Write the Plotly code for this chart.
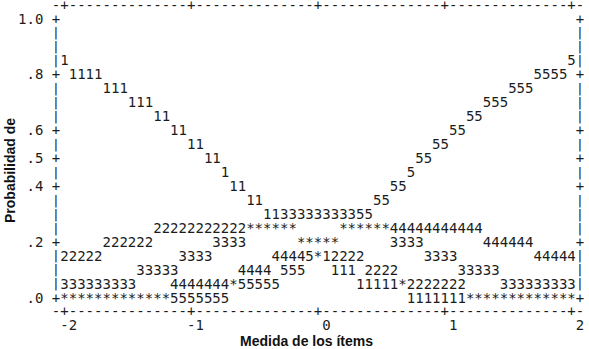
import numpy as np
import plotly.graph_objects as go

# ---------------- data -------------
# plot columns: measure from -2 to +2 logits, 15 columns per logit (61 columns)
measure = np.linspace(-2, 2, 61)
categories = ["1", "2", "3", "4", "5"]

# probability of each category at every column (as printed, rounded to .05)
p_cat1 = [.85,
          .80, .80, .80, .80, .75, .75, .75, .70, .70, .70, .65, .65, .60, .60,
          .55, .55, .50, .50, .45, .40, .40, .35, .35, .30, .30, .25, .25, .20, .20,
          .15, .15, .10, .10, .10, .05, .05, .05, .05, .05, .05, 0, 0, 0, 0,
          0, 0, 0, 0, 0, 0, 0, 0, 0, 0, 0, 0, 0, 0, 0, 0]
p_cat2 = [.15, .15, .15, .15, .15, .20, .20, .20, .20, .20, .20,
          .25, .25, .25, .25, .25, .25, .25, .25, .25, .25, .25, .25, .25, .25, .25, .25, .25,
          .20, .20, .20, .20, .15, .15, .15, .15, .10, .10, .10, .10,
          .05, .05, .05, .05, .05, .05, .05, .05,
          0, 0, 0, 0, 0, 0, 0, 0, 0, 0, 0, 0, 0]
p_cat3 = [.05, .05, .05, .05, .05, .05, .05, .05, .05, .10, .10, .10, .10, .10,
          .15, .15, .15, .15, .20, .20, .20, .20, .25, .25, .25, .25,
          .30, .30, .30, .30, .30, .30, .30, .30, .30,
          .25, .25, .25, .25, .20, .20, .20, .20, .15, .15, .15, .15,
          .10, .10, .10, .10, .10, .05, .05, .05, .05, .05, .05, .05, .05, .05]
p_cat4 = [0, 0, 0, 0, 0, 0, 0, 0, 0, 0, 0, 0, 0,
          .05, .05, .05, .05, .05, .05, .05, .05,
          .10, .10, .10, .10, .15, .15, .15, .15, .20, .20, .20, .20,
          .25, .25, .25, .25, .25, .25, .25, .25, .25, .25, .25, .25, .25, .25, .25, .25, .25,
          .20, .20, .20, .20, .20, .20, .15, .15, .15, .15, .15]
p_cat5 = [0, 0, 0, 0, 0, 0, 0, 0, 0, 0, 0, 0, 0, 0, 0, 0, 0, 0, 0, 0,
          .05, .05, .05, .05, .05, .05, .10, .10, .10, .15, .15, .20, .20, .25, .25,
          .30, .30, .35, .35, .40, .40, .45, .50, .50, .55, .55, .60, .60, .65, .65,
          .70, .70, .70, .75, .75, .75, .80, .80, .80, .80, .85]

x_ticks = [-2, -1, 0, 1, 2]
x_tick_labels = ["-2", "-1", "0", "1", "2"]
y_ticks = [1.0, .8, .6, .5, .4, .2, .0]
y_tick_labels = ["1.0", ".8", ".6", ".5", ".4", ".2", ".0"]
x_title = "Medida de los ítems"
y_title = "Probabilidad de"

# ---------------- character grid of the printer plot ----------------------------------------
STEP_X = 1 / 15      # logits per character column
STEP_Y = 0.05        # probability per character row
MONO = "DejaVu Sans Mono, Liberation Mono, monospace"
INK = "#1c1c1c"
FS = 14


def col_of(x):
    return int(round((x + 2) / STEP_X)) + 1


def row_of(p):
    return int(round((1 - p) / STEP_Y))


def cell_x(c):
    return -2 + (c - 1) * STEP_X


def cell_y(r):
    return 1 - r * STEP_Y


def text_trace(xs, ys, ts, name, size=FS):
    return go.Scatter(x=xs, y=ys, mode="text", text=ts, name=name, cliponaxis=False,
                      textfont=dict(family=MONO, size=size, color=INK), hoverinfo="skip")


series = [p_cat1, p_cat2, p_cat3, p_cat4, p_cat5]
cells = {}
for cat, values in zip(categories, series):
    for xv, pv in zip(measure, values):
        cells.setdefault((col_of(xv), row_of(pv)), []).append(cat)

fig = go.Figure()
for cat in categories:
    pts = [k for k, v in cells.items() if v == [cat]]
    fig.add_trace(text_trace([cell_x(c) for c, r in pts], [cell_y(r) for c, r in pts],
                             [cat] * len(pts), cat))
multi = [k for k, v in cells.items() if len(v) > 1]
fig.add_trace(text_trace([cell_x(c) for c, r in multi], [cell_y(r) for c, r in multi],
                         ["*"] * len(multi), "*"))

# frame, ticks and tick labels drawn as printer characters
first_col, last_col = 0, col_of(2) + 1
top_row, last_row = -1, row_of(0) + 1
tick_cols = [col_of(v) for v in x_ticks]
tick_rows = [row_of(v) for v in y_ticks]
fx, fy, ft = [], [], []
bx, by = [], []
for c in range(first_col, last_col + 1):
    ch = "+" if c in tick_cols else "-"
    for r in (top_row, last_row):
        fx.append(cell_x(c)); fy.append(cell_y(r)); ft.append(ch)
for r in range(0, last_row):
    for c in (first_col, last_col):
        if r in tick_rows:
            fx.append(cell_x(c)); fy.append(cell_y(r)); ft.append("+")
        else:
            bx.append(cell_x(c)); by.append(cell_y(r))
for v, lab in zip(y_ticks, y_tick_labels):
    for j, ch in enumerate(lab):
        fx.append(cell_x(-2 - (len(lab) - 1 - j))); fy.append(cell_y(row_of(v))); ft.append(ch)
for v, lab in zip(x_ticks, x_tick_labels):
    end = col_of(v) + 1
    for j, ch in enumerate(lab):
        fx.append(cell_x(end - (len(lab) - 1 - j))); fy.append(cell_y(last_row + 1)); ft.append(ch)
fig.add_trace(text_trace(fx, fy, ft, "frame"))
fig.add_trace(text_trace(bx, by, ["|"] * len(bx), "bars", size=13))

# ---------------- layout: map the character grid to the picture ------------------------------
W, H = 589, 349
px_left, px_right = 56, 580      # pixel centres of the two frame columns
py_top, py_bottom = 20, 299      # pixel positions of rows 1.0 and .0
x0, x1 = cell_x(first_col), cell_x(last_col)
per_px_x = (x1 - x0) / (px_right - px_left)
xa = x0 - px_left * per_px_x
xb = xa + W * per_px_x
per_px_y = (cell_y(0) - cell_y(20)) / (py_bottom - py_top)
yb = cell_y(0) + py_top * per_px_y
ya = yb - H * per_px_y

fig.update_layout(
    width=W, height=H, margin=dict(l=0, r=0, t=0, b=0),
    paper_bgcolor="white", plot_bgcolor="white", showlegend=False,
    xaxis=dict(range=[xa, xb], visible=False, fixedrange=True),
    yaxis=dict(range=[ya, yb], visible=False, fixedrange=True),
    annotations=[
        dict(text=f"<b>{x_title}</b>", xref="paper", yref="paper", x=306 / W, y=1 - 341 / H,
             showarrow=False, xanchor="center", yanchor="middle",
             font=dict(family="Liberation Sans, Arial, sans-serif", size=14, color="#111")),
        dict(text=f"<b>{y_title}</b>", xref="paper", yref="paper", x=10 / W, y=1 - 171 / H,
             showarrow=False, xanchor="center", yanchor="middle", textangle=-90,
             font=dict(family="Liberation Sans, Arial, sans-serif", size=14, color="#111")),
    ],
)

fig.write_html("out.html", config={"displayModeBar": False},
               post_script="document.body.style.margin='0';document.body.style.padding='0';")
